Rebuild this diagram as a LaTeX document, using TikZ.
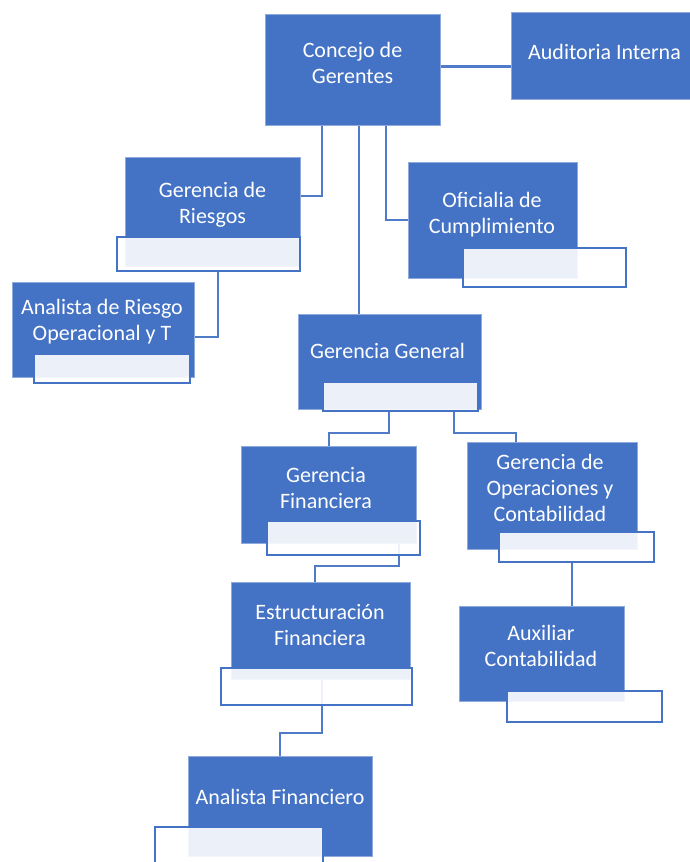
\documentclass[tikz,border=0pt]{standalone}
\usepackage{fontspec}
\setmainfont{Carlito}
\usetikzlibrary{backgrounds}
\definecolor{obl}{HTML}{4472C4}
\definecolor{oedge}{HTML}{8FAADC}
\definecolor{cline}{HTML}{4F7BC8}
\begin{document}
\begin{tikzpicture}[x=1pt,y=-1pt,
  bluebox/.style={rectangle,fill=obl,draw=oedge,line width=0.6pt,inner sep=0pt},
  titlebox/.style={rectangle,fill=white,fill opacity=0.9,draw=obl,line width=1.8pt,inner sep=0pt},
  lbl/.style={text=white,align=center,font=\fontsize{22}{26}\selectfont,inner sep=0pt},
  conn/.style={draw=cline,line width=2.1pt}]
\useasboundingbox (0,0) rectangle (689,862);
% blue boxes
\node[bluebox,minimum width=175pt,minimum height=111pt] (cg) at (352.5,69.5) {};
\node[bluebox,minimum width=187pt,minimum height=87pt] (ai) at (604.5,55.5) {};
\node[bluebox,minimum width=175pt,minimum height=109pt] (gr) at (212.5,211.5) {};
\node[bluebox,minimum width=182pt,minimum height=95pt] (ar) at (103,329.5) {};
\node[bluebox,minimum width=169pt,minimum height=116pt] (of) at (492.5,220) {};
\node[bluebox,minimum width=183pt,minimum height=95pt] (gg) at (389.5,361.5) {};
\node[bluebox,minimum width=175pt,minimum height=97pt] (gf) at (328.5,494.5) {};
\node[bluebox,minimum width=170pt,minimum height=107pt] (go) at (552,495.5) {};
\node[bluebox,minimum width=179pt,minimum height=97pt] (ef) at (320.5,630.5) {};
\node[bluebox,minimum width=165pt,minimum height=95pt] (ax) at (541.5,653.5) {};
\node[bluebox,minimum width=184pt,minimum height=100pt] (af) at (280,806) {};
% title boxes
\node[titlebox,minimum width=183pt,minimum height=34pt] (grT) at (208.5,254) {};
\node[titlebox,minimum width=156pt,minimum height=29pt] (arT) at (112,368.5) {};
\node[titlebox,minimum width=163pt,minimum height=39pt] (ofT) at (544.5,267.5) {};
\node[titlebox,minimum width=155pt,minimum height=29pt] (ggT) at (400.5,396.5) {};
\node[titlebox,minimum width=153pt,minimum height=34pt] (gfT) at (343.5,538) {};
\node[titlebox,minimum width=155pt,minimum height=30pt] (goT) at (576.5,547) {};
\node[titlebox,minimum width=191pt,minimum height=37pt] (efT) at (316.5,686.5) {};
\node[titlebox,minimum width=155pt,minimum height=31pt] (axT) at (584.5,706.5) {};
\node[titlebox,minimum width=168pt,minimum height=39pt] (afT) at (239,846.5) {};
% labels
\node[lbl] (cgL) at (352.5,63) {Concejo de\\Gerentes};
\node[lbl] (aiL) at (604.5,52) {Auditoria Interna};
\node[lbl] (grL) at (212.5,205) {Gerencia de\\Riesgos};
\node[lbl] (arL) at (102,322) {Analista de Riesgo\\Operacional y T};
\node[lbl] (ofL) at (492,215) {Oficialia de\\Cumplimiento};
\node[lbl] (ggL) at (387.5,351) {Gerencia General};
\node[lbl] (gfL) at (326,488) {Gerencia\\Financiera};
\node[lbl] (goL) at (550,488) {Gerencia de\\Operaciones y\\Contabilidad};
\node[lbl] (efL) at (320,625) {Estructuración\\Financiera};
\node[lbl] (axL) at (541,646) {Auxiliar\\Contabilidad};
\node[lbl] (afL) at (280,797) {Analista Financiero};
% connectors
\coordinate (busL) at (329,433);
\coordinate (busR) at (516,433);
\coordinate (b2) at (315,566);
\begin{pgfonlayer}{background}
\draw[conn] ([yshift=3pt]cg.east) -- ([yshift=3pt]cg.east -| ai.west);
\draw[conn] ([xshift=-30.5pt]cg.south) |- ([yshift=15.5pt]gr.east);
\draw[conn] ([xshift=6.5pt]cg.south) -- ([xshift=6.5pt]cg.south |- gg.north);
\draw[conn] ([xshift=33.5pt]cg.south) |- (of.west);
\draw[conn] ([xshift=9.5pt]grT.south) |- ([yshift=-7.5pt]ar.east);
\draw[conn] ([xshift=-11.5pt]ggT.south) |- (busL) -- (busL |- gf.north);
\draw[conn] ([xshift=53.5pt]ggT.south) |- (busR) -- (busR |- go.north);
\draw[conn] ([xshift=70.5pt]gf.south) |- (b2) -- (b2 |- ef.north);
\draw[conn] ([xshift=1.5pt]ef.south) |- ([yshift=23pt]af.north) -- (af.north);
\draw[conn] ([xshift=-4.5pt]goT.south) -- ([xshift=-4.5pt]goT.south |- ax.north);
\end{pgfonlayer}
\end{tikzpicture}
\end{document}
